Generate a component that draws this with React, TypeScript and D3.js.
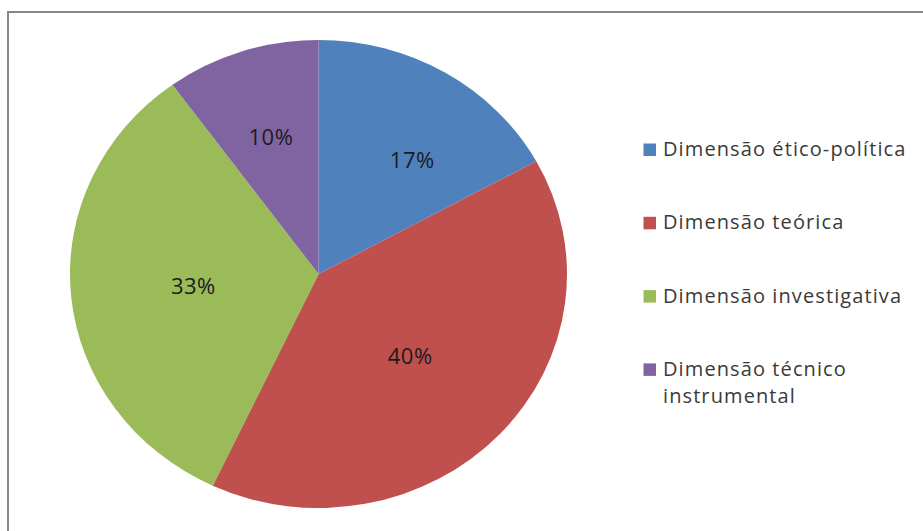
import React from "react";
import * as d3 from "d3";

const categories = [
  "Dimensão ético-política",
  "Dimensão teórica",
  "Dimensão investigativa",
  "Dimensão técnico instrumental",
];
const legendLines = [
  ["Dimensão ético-política"],
  ["Dimensão teórica"],
  ["Dimensão investigativa"],
  ["Dimensão técnico", "instrumental"],
];
const values = [17, 40, 33, 10];
const colors = ["#4F81BD", "#C0504D", "#9BBB59", "#8064A2"];

const W = 923;
const H = 531;
const cx = 318.5;
const cy = 274;
const rx = 248.5;
const ry = 234;

export default function App() {
  const total = d3.sum(values);
  const pie = d3.pie<number>().sort(null).value((d) => d)(values);
  const arc = d3.arc<d3.PieArcDatum<number>>().innerRadius(0).outerRadius(rx);
  const sy = ry / rx;
  const font = "'Open Sans', sans-serif";

  return (
    <svg
      width={W}
      height={H}
      style={{ position: "absolute", left: 0, top: 0, background: "#fff" }}
    >
      <rect x={8} y={12} width={W + 10} height={H + 10} fill="#fff" stroke="#878787" strokeWidth={2} />
      <g transform={`translate(${cx},${cy}) scale(1,${sy})`}>
        {pie.map((d, i) => (
          <path key={i} d={arc(d) || ""} fill={colors[i]} />
        ))}
      </g>
      <g transform={`translate(${cx},${cy})`}>
        {pie.map((d, i) => {
          const share = values[i] / total;
          const r = rx * (share < 0.2 ? 0.62 : 0.506);
          const mid = (d.startAngle + d.endAngle) / 2 + (share < 0.2 && i === 0 ? 0.12 : 0);
          const x = Math.sin(mid) * r;
          const y = -Math.cos(mid) * r * sy;
          return (
            <text
              key={i}
              x={x}
              y={y}
              textAnchor="middle"
              dominantBaseline="central"
              fontFamily={font}
              fontSize={22}
              letterSpacing={0.5}
              fill="#1c1c1c"
            >
              {Math.round(share * 100)}%
            </text>
          );
        })}
      </g>
      <g>
        {legendLines.map((lines, i) => {
          const base = 156 + i * 73.3;
          return (
            <g key={i}>
              <rect x={643.5} y={base - 12.5} width={12.5} height={12.5} fill={colors[i]} />
              {lines.map((t, j) => (
                <text
                  key={j}
                  x={663}
                  y={base + j * 27}
                  fontFamily={font}
                  fontSize={20}
                  letterSpacing={1.1}
                  fill="#3a3a3a"
                >
                  {t}
                </text>
              ))}
            </g>
          );
        })}
      </g>
    </svg>
  );
}
